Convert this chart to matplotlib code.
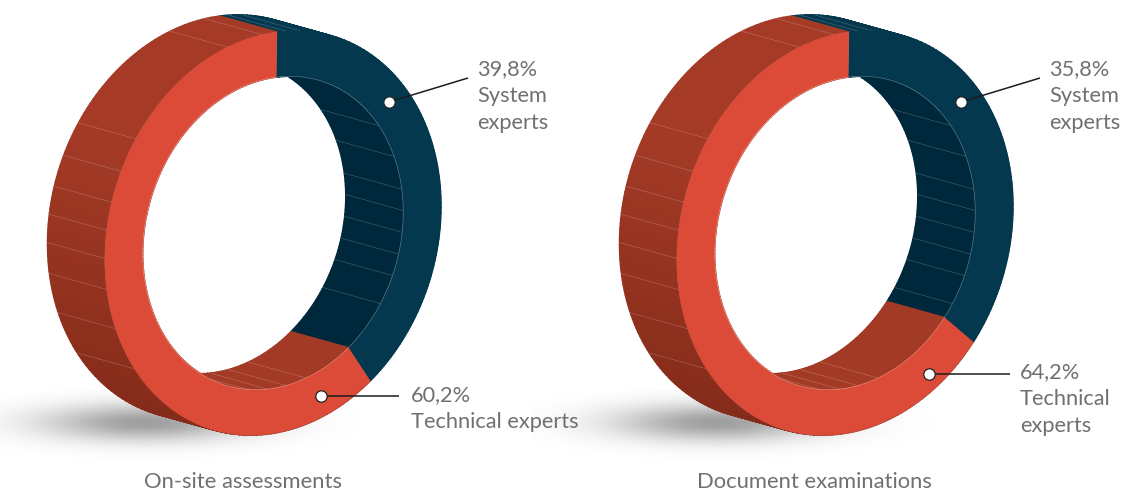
import numpy as np
import matplotlib
matplotlib.use('Agg')
import matplotlib.pyplot as plt
from matplotlib.collections import PolyCollection
from matplotlib.colors import to_rgb
from matplotlib.patches import Polygon

# values
titles = ['On-site assessments', 'Document examinations']
system_share = [39.8, 35.8]
technical_share = [60.2, 64.2]
system_labels = ['39,8%\nSystem\nexperts', '35,8%\nSystem\nexperts']
technical_labels = ['60,2%\nTechnical experts', '64,2%\nTechnical\nexperts']

# seams on the extruded surface, degrees clockwise from the top of the ring
outer_seams = [3, 8, 355, 343, 304, 294, 285, 277, 269, 260, 248, 234]
inner_seams = [53, 67, 80, 88, 96, 104, 112, 123, 164, 173, 181, 190]

# colours
RED = '#dc4b37'
BLUE = '#03384e'
BLUE_INNER = '#00283c'
RED_TOP = '#a53b27'
RED_BOTTOM = '#842b19'
RED_INNER = '#a33a26'
TEXT = '#6f7072'

# ring geometry in pixels
M = np.array([[168, 4], [-22, -201]])
HOLE = 0.775
DEPTH = np.array([-57.5, -16])
CENTERS = [np.array([273, 233]), np.array([845, 233])]


def ring(center, theta, r=1.0):
    t = np.radians(theta)
    u = np.column_stack([np.sin(t), np.cos(t)])
    return center + r * u @ M.T


def lerp_color(a, b, f):
    return tuple((1 - f) * np.array(to_rgb(a)) + f * np.array(to_rgb(b)))


def side_quads(center, t1, t2, r):
    th = np.linspace(t1, t2, max(int((t2 - t1) / 1.5), 2) + 1)
    p = ring(center, th, r)
    return [np.array([p[i], p[i + 1], p[i + 1] + DEPTH, p[i] + DEPTH]) for i in range(len(p) - 1)]


def draw_shadow(ax, center):
    off = center[0] - 273
    x = np.arange(-40, 380)
    y = np.arange(390, 460)
    xx, yy = np.meshgrid(x, y)
    dx = (xx - 145) / 72
    dy = (yy - 422) / 13
    a = 0.38 * np.exp(-0.5 * (dx ** 2 + dy ** 2))
    img = np.zeros(a.shape + (4,))
    img[..., 3] = a
    ax.imshow(img, extent=(off - 40, off + 380, 460, 390), aspect='auto', zorder=1, interpolation='bilinear')


def draw_ring(ax, center, share):
    split = share * 3.6
    # outer surface
    for t1, t2, kind in [(0, split, 'blue'), (split, 360, 'red')]:
        quads = side_quads(center, t1, t2, 1.0)
        if kind == 'blue':
            colors = [BLUE] * len(quads)
        else:
            colors = [lerp_color(RED_TOP, RED_BOTTOM, np.clip((q[:, 1].mean() - 120) / 300, 0, 1)) for q in quads]
        ax.add_collection(PolyCollection(quads, facecolors=colors, edgecolors='face', linewidths=1.0, zorder=2))
    for s in outer_seams:
        p = ring(center, np.array([s]))[0]
        ax.plot([p[0], p[0] + DEPTH[0]], [p[1], p[1] + DEPTH[1]], color='white', alpha=0.22, lw=0.5, zorder=3)

    # hole, everything seen through it is clipped to the front ellipse
    all_th = np.linspace(0, 360, 361)
    hole = Polygon(ring(center, all_th, HOLE), closed=True, fc='white', ec='none', zorder=4)
    ax.add_patch(hole)
    for t1, t2, col in [(0, split, BLUE_INNER), (split, 360, RED_INNER)]:
        pc = PolyCollection(side_quads(center, t1, t2, HOLE), facecolors=col, edgecolors='face', linewidths=1.0, zorder=5)
        ax.add_collection(pc)
        pc.set_clip_path(hole)
    for s in inner_seams:
        p = ring(center, np.array([s]), HOLE)[0]
        ln, = ax.plot([p[0], p[0] + DEPTH[0]], [p[1], p[1] + DEPTH[1]], color='white', alpha=0.22, lw=0.5, zorder=6)
        ln.set_clip_path(hole)

    # front face
    for t1, t2, col in [(0, split, BLUE), (split, 360, RED)]:
        th = np.linspace(t1, t2, int(t2 - t1) * 2 + 2)
        pts = np.vstack([ring(center, th, 1.0), ring(center, th[::-1], HOLE)])
        ax.add_patch(Polygon(pts, closed=True, fc=col, ec=col, lw=0.3, zorder=7))

    # thin light rim where the faces meet
    th = np.linspace(0, 360, 361)
    rim = ring(center, th, HOLE)
    ax.plot(rim[:, 0], rim[:, 1], color='white', alpha=0.3, lw=0.5, zorder=8)
    rim = ring(center, np.linspace(split, 360, 300), 1.0)
    ax.plot(rim[:, 0], rim[:, 1], color='white', alpha=0.2, lw=0.5, zorder=6.5)


def callout(ax, marker, end):
    ax.plot([marker[0], end[0]], [marker[1], end[1]], color='#1c1c1c', lw=1.1, zorder=9, solid_capstyle='butt')
    ax.plot(marker[0], marker[1], 'o', ms=8.2, mfc='white', mec='#222222', mew=0.9, zorder=10)


fig = plt.figure(figsize=(11.22, 4.91), dpi=100)
ax = fig.add_axes([0, 0, 1, 1])
plt.rcParams['font.family'] = ['Lato', 'DejaVu Sans']

for c, share in zip(CENTERS, system_share):
    draw_shadow(ax, c)
    draw_ring(ax, c, share)

callout(ax, (389, 102), (468, 78))
callout(ax, (321, 396), (399, 396))
callout(ax, (961, 102), (1040, 78))
callout(ax, (929, 374), (1010, 374))

kw = dict(color=TEXT, fontsize=15.7, va='top', ha='left', linespacing=1.45, zorder=11)
ax.text(477, 59, system_labels[0], **kw)
ax.text(411, 385, technical_labels[0], **kw)
ax.text(1049, 59, system_labels[1], **kw)
ax.text(1020, 362, technical_labels[1], **kw)

ax.text(243, 482, titles[0], color=TEXT, fontsize=15.8, ha='center', va='center')
ax.text(814, 482, titles[1], color=TEXT, fontsize=15.8, ha='center', va='center')

ax.set_xlim(0, 1122)
ax.set_ylim(491, 0)
ax.axis('off')
fig.savefig('out.png', dpi=100, facecolor='white')
